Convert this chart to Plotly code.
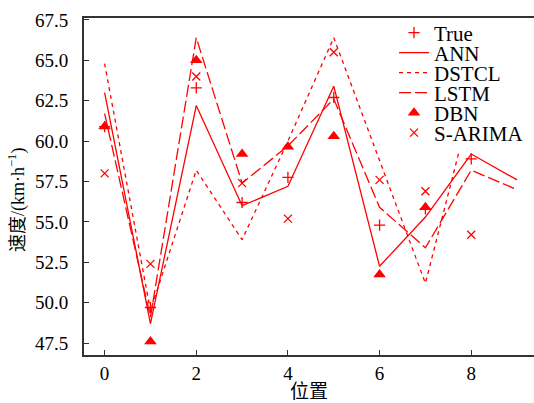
import plotly.graph_objects as go

positions = [0, 1, 2, 3, 4, 5, 6, 7, 8, 9]
marker_positions = [0, 1, 2, 3, 4, 5, 6, 7, 8]
dbn_positions = [0, 1, 2, 3, 4, 5, 6, 7]

true_vals = [60.9, 49.7, 63.3, 56.2, 57.75, 62.7, 54.8, 55.8, 58.9]
ann_vals = [63.0, 48.7, 62.2, 56.0, 57.2, 63.4, 52.25, 55.3, 59.2, 57.6]
dstcl_vals = [64.8, 49.5, 58.2, 53.9, 60.0, 66.4, 58.8, 51.2, 62.3, 61.0]
lstm_vals = [61.7, 49.1, 66.4, 57.4, 59.7, 62.6, 55.9, 53.4, 58.2, 57.0]
dbn_vals = [60.9, 47.6, 65.0, 59.2, 59.65, 60.3, 51.75, 55.9]
sarima_vals = [58.0, 52.4, 64.0, 57.4, 55.2, 65.5, 57.6, 56.9, 54.2]

y_ticks = [47.5, 50.0, 52.5, 55.0, 57.5, 60.0, 62.5, 65.0, 67.5]
x_ticks = [0, 2, 4, 6, 8]

RED = "#ff0000"
SERIF = "Liberation Serif, Times New Roman, Times, Tinos, DejaVu Serif, serif"
CJK = "Noto Sans CJK SC"

fig = go.Figure()
fig.add_trace(go.Scatter(x=marker_positions, y=true_vals, mode="markers", name="True", legend="legend",
                         marker=dict(symbol="cross-thin", size=8, line=dict(color=RED, width=1.3), color=RED)))
fig.add_trace(go.Scatter(x=positions, y=ann_vals, mode="lines", name="ANN", legend="legend2",
                         line=dict(color=RED, width=1.3)))
fig.add_trace(go.Scatter(x=positions, y=dstcl_vals, mode="lines", name="DSTCL", legend="legend3",
                         line=dict(color=RED, width=1.3, dash="4px,4px")))
fig.add_trace(go.Scatter(x=positions, y=lstm_vals, mode="lines", name="LSTM", legend="legend4",
                         line=dict(color=RED, width=1.3, dash="12px,4px")))
fig.add_trace(go.Scatter(x=dbn_positions, y=dbn_vals, mode="markers", name="DBN", legend="legend5",
                         marker=dict(symbol="triangle-up", size=11, color=RED)))
fig.add_trace(go.Scatter(x=marker_positions, y=sarima_vals, mode="markers", name="S-ARIMA", legend="legend6",
                         marker=dict(symbol="x-thin", size=8, line=dict(color=RED, width=1.3), color=RED)))

W, H = 534, 403
plot_left, plot_top, plot_bottom = 84, 18, 355
plot_h = plot_bottom - plot_top
plot_w = W - plot_left
row_centers = [33, 53, 73, 93, 113, 133]
legend_left = 394
legend_bottom = 153
ytitle_center = (16, 200)


def legend_at(c):
    return dict(x=(legend_left - plot_left) / plot_w, y=1 - (c - plot_top) / plot_h,
                xanchor="left", yanchor="middle", bgcolor="rgba(0,0,0,0)", borderwidth=0,
                itemwidth=30, font=dict(family=SERIF, size=21, color="black"))


fig.update_layout(
    width=W, height=H,
    margin=dict(l=plot_left, r=0, t=plot_top, b=H - plot_bottom),
    plot_bgcolor="white", paper_bgcolor="white",
    font=dict(family=SERIF, size=19, color="black"),
    showlegend=True,
    legend=legend_at(row_centers[0]),
    legend2=legend_at(row_centers[1]),
    legend3=legend_at(row_centers[2]),
    legend4=legend_at(row_centers[3]),
    legend5=legend_at(row_centers[4]),
    legend6=legend_at(row_centers[5]),
    shapes=[dict(type="rect", xref="paper", yref="paper", layer="above",
                 x0=(legend_left - plot_left) / plot_w, x1=1,
                 y0=1 - (legend_bottom - plot_top) / plot_h, y1=1 - 2 / plot_h,
                 fillcolor="white", line=dict(width=0))],
    annotations=[dict(text="<span style='font-family:Noto Sans CJK SC'>速度</span>/(km·h<sup>−1</sup>)",
                      xref="paper", yref="paper", textangle=-90, showarrow=False,
                      x=(ytitle_center[0] - plot_left) / plot_w,
                      y=1 - (ytitle_center[1] - plot_top) / plot_h,
                      xanchor="center", yanchor="middle",
                      font=dict(family=SERIF, size=18, color="black"))],
    xaxis=dict(range=[-0.45, 9.37], tickvals=x_ticks, ticktext=[str(v) for v in x_ticks],
               ticks="inside", ticklen=5, tickwidth=1.3, tickcolor="#333",
               showline=True, linecolor="#333", linewidth=1.8, mirror=True,
               showgrid=False, zeroline=False, automargin=False,
               tickfont=dict(family=SERIF, size=19),
               title=dict(text="位置", standoff=4, font=dict(family=CJK, size=19))),
    yaxis=dict(range=[46.76, 67.62], tickvals=y_ticks, ticktext=[f"{v:.1f}" for v in y_ticks],
               ticks="inside", ticklen=5, tickwidth=1.3, tickcolor="#333",
               showline=True, linecolor="#333", linewidth=1.8,
               showgrid=False, zeroline=False, ticklabelstandoff=10, automargin=False,
               tickfont=dict(family=SERIF, size=19)),
)

fig.write_html("out.html", config={"displayModeBar": False},
               post_script="document.body.style.margin='0';document.body.style.overflow='hidden';")
